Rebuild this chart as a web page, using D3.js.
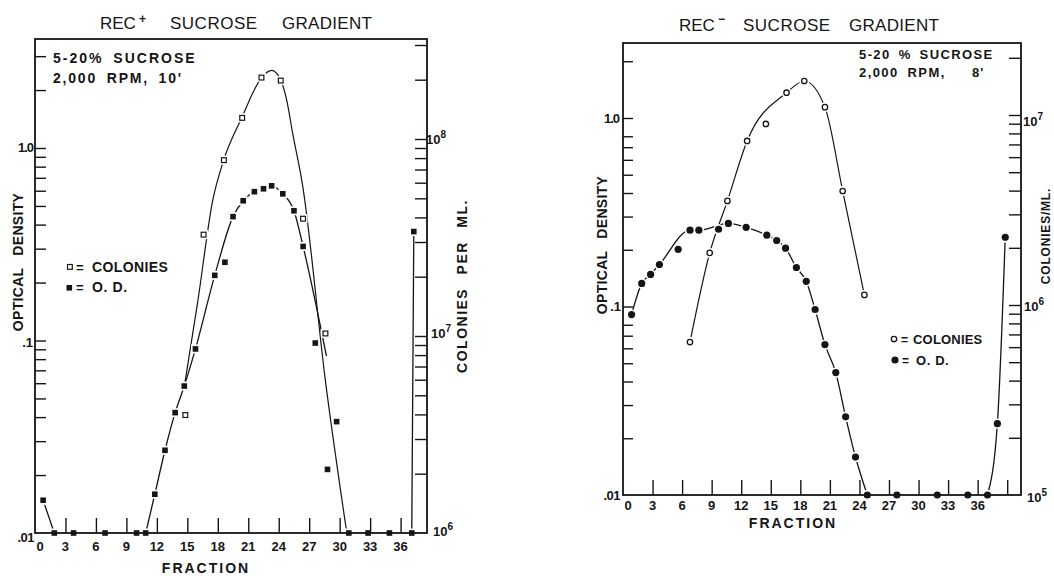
<!DOCTYPE html>
<html><head><meta charset="utf-8">
<script src="https://cdn.jsdelivr.net/npm/d3@7"></script>
<style>
body{margin:0;background:#fff}
text{font-family:"Liberation Sans",Arial,sans-serif;fill:#151515}
</style>
</head><body>
<svg id="c" width="1054" height="576"></svg>
<script>
// ---------- DATA ----------
const fractionLabels = ["0","3","6","9","12","15","18","21","24","27","30","33","36"];
const fractionTicksA = [3,6,9,12,15,18,21,24,27,30,33,36];
const fractionTicksB = [3,6,9,12,15,18,21,24,27,30,33,36,39];

// REC+ panel: optical density (filled squares)
const recPlusOdFraction = [0.8,1.9,3.8,6.9,10.0,10.9,11.8,12.8,13.8,14.7,15.8,17.7,18.7,19.5,20.5,21.6,22.5,23.3,24.4,25.5,26.4,27.6,28.8,29.7,30.9,32.8,34.9,37.1,37.3];
const recPlusOd = [0.0148,0.01,0.01,0.01,0.01,0.01,0.0159,0.0269,0.0422,0.058,0.0904,0.218,0.255,0.44,0.532,0.593,0.614,0.636,0.578,0.472,0.308,0.097,0.0214,0.0379,0.01,0.01,0.01,0.01,0.368];
// REC+ panel: colonies per ml (open squares)
const recPlusColFraction = [14.8,16.6,18.6,20.4,22.3,24.2,26.4,28.6];
const recPlusCol = [3.97e6,3.27e7,7.81e7,1.28e8,2.05e8,1.98e8,3.94e7,1.03e7];
// REC+ hand-drawn fit curves (null = break)
const recPlusOdFitFraction = [0.8,1.9,null,10.9,11.8,12.8,13.8,14.7,15.8,17.7,19.5,20.5,21.6,22.5,23.3,24.4,25.5,26.4,28.7,null,37.1,37.3];
const recPlusOdFit = [0.0148,0.01,null,0.01,0.0159,0.0269,0.0422,0.058,0.0904,0.218,0.44,0.532,0.593,0.614,0.636,0.578,0.472,0.308,0.083,null,0.01,0.368];
const recPlusColFitFraction = [14.65,16.03,17.5,18.58,20.35,22.32,23.3,24.19,24.78,25.37,26.35,28.61,30.68];
const recPlusColFit = [5.33e6,1.5e7,4.88e7,7.81e7,1.28e8,2.05e8,2.23e8,2.0e8,1.58e8,1.07e8,5.82e7,5.85e6,1.02e6];
const recPlusOdTicks = [0.02,0.03,0.04,0.05,0.06,0.07,0.08,0.09,0.1,0.2,0.3,0.4,0.5,0.6,0.7,0.8,0.9,1,2,3];
const recPlusColTicks = [2e6,3e6,4e6,5e6,6e6,7e6,8e6,9e6,1e7,2e7,3e7,4e7,5e7,6e7,7e7,8e7,9e7,1e8,2e8,3e8];

// REC- panel: optical density (filled circles)
const recMinusOdFraction = [0.87,1.9,2.8,3.7,5.6,6.8,7.7,9.7,10.7,12.5,14.6,15.6,16.5,17.6,18.6,19.5,20.5,21.6,22.6,23.6,24.8,27.8,31.9,35.0,37.0,38.0,38.8];
const recMinusOd = [0.0906,0.1326,0.148,0.167,0.201,0.254,0.254,0.257,0.276,0.263,0.239,0.224,0.204,0.161,0.136,0.0964,0.0628,0.0446,0.026,0.0159,0.01,0.01,0.01,0.01,0.01,0.0239,0.233];
// REC- panel: colonies per ml (open circles)
const recMinusColFraction = [6.8,8.8,10.6,12.6,14.5,16.6,18.4,20.5,22.3,24.5];
const recMinusCol = [6.38e5,1.88e6,3.53e6,7.3e6,8.97e6,1.31e7,1.51e7,1.10e7,3.98e6,1.13e6];
const recMinusOdFitFraction = [0.87,1.9,2.8,3.7,6.8,7.7,10.7,12.5,14.6,15.6,16.5,17.6,18.6,19.5,20.5,21.6,22.6,23.6,24.8,null,37.0,38.0,38.8];
const recMinusOdFit = [0.0906,0.1326,0.148,0.167,0.254,0.254,0.276,0.263,0.239,0.224,0.204,0.161,0.136,0.0964,0.0628,0.0446,0.026,0.0159,0.01,null,0.01,0.0239,0.233];
const recMinusColFitFraction = [6.8,8.8,10.6,12.6,16.6,18.4,20.5,22.3,24.5];
const recMinusColFit = [6.38e5,1.88e6,3.53e6,7.3e6,1.31e7,1.51e7,1.10e7,3.98e6,1.13e6];
const recMinusOdTicks = [0.02,0.03,0.04,0.05,0.06,0.07,0.08,0.1,0.2,0.3,0.4,0.5,0.6,0.7,0.8,1,2];
const recMinusColTicks = [2e5,3e5,4e5,5e5,6e5,7e5,8e5,9e5,1e6,2e6,3e6,4e6,5e6,6e6,7e6,8e6,9e6,1e7,2e7];

// ---------- DRAWING ----------
const svg = d3.select("#c");
const INK = "#151515";
const zip = (a,b) => a.map((v,i)=>[v,b[i]]);

function drawPanel(p){
  const g = svg.append("g");
  const x = p.x, yOd = p.yOd, yCol = p.yCol;
  const lineOd = d3.line().defined(d=>d[0]!=null).x(d=>x(d[0])).y(d=>yOd(d[1])).curve(d3.curveMonotoneX);
  const lineCol = d3.line().defined(d=>d[0]!=null).x(d=>x(d[0])).y(d=>yCol(d[1])).curve(d3.curveMonotoneX);
  g.append("path").attr("d", lineOd(zip(p.odFitF,p.odFit))).attr("fill","none").attr("stroke",INK).attr("stroke-width",1.3);
  g.append("path").attr("d", lineCol(zip(p.colFitF,p.colFit))).attr("fill","none").attr("stroke",INK).attr("stroke-width",1.2);

  const od = zip(p.odF,p.od), col = zip(p.colF,p.col);
  // halos to break the lines around markers
  if(p.shape==="square"){
    g.selectAll(null).data(od.concat(col)).join("rect")
      .attr("x",(d,i)=>x(d[0])-4.5).attr("y",(d,i)=>(i<od.length?yOd(d[1]):yCol(d[1]))-4.5)
      .attr("width",9).attr("height",9).attr("fill","#fff");
  } else {
    g.selectAll(null).data(od).join("circle").attr("cx",d=>x(d[0])).attr("cy",d=>yOd(d[1])).attr("r",5.2).attr("fill","#fff");
    g.selectAll(null).data(col).join("circle").attr("cx",d=>x(d[0])).attr("cy",d=>yCol(d[1])).attr("r",5).attr("fill","#fff");
  }

  // frame
  const [x0,x1] = x.range();
  g.append("rect").attr("x",x0).attr("y",p.top).attr("width",x1-x0).attr("height",p.bottom-p.top)
    .attr("fill","none").attr("stroke",INK).attr("stroke-width",1.8);
  // ticks
  const tickStyle = s => { s.select(".domain").remove(); s.selectAll("line").attr("stroke",INK).attr("stroke-width",1.4); s.selectAll("text").remove(); };
  g.append("g").attr("transform",`translate(${x0},0)`).call(d3.axisLeft(yOd).tickValues(p.odTicks).tickSize(-p.tickL).tickFormat(()=>"")).call(tickStyle);
  g.append("g").attr("transform",`translate(${x1},0)`).call(d3.axisRight(yCol).tickValues(p.colTicks).tickSize(-12).tickFormat(()=>"")).call(tickStyle);
  g.append("g").attr("transform",`translate(0,${p.bottom})`).call(d3.axisBottom(x).tickValues(p.fTicks).tickSize(-15).tickFormat(()=>"")).call(tickStyle);

  // markers
  if(p.shape==="square"){
    g.selectAll(null).data(od).join("rect").attr("x",d=>x(d[0])-2.8).attr("y",d=>yOd(d[1])-2.8)
      .attr("width",5.6).attr("height",5.6).attr("fill",INK);
    g.selectAll(null).data(col).join("rect").attr("x",d=>x(d[0])-2.4).attr("y",d=>yCol(d[1])-2.4)
      .attr("width",4.8).attr("height",4.8).attr("fill","#fff").attr("stroke",INK).attr("stroke-width",1.2);
  } else {
    g.selectAll(null).data(od).join("circle").attr("cx",d=>x(d[0])).attr("cy",d=>yOd(d[1])).attr("r",3.6).attr("fill",INK);
    g.selectAll(null).data(col).join("circle").attr("cx",d=>x(d[0])).attr("cy",d=>yCol(d[1])).attr("r",2.7)
      .attr("fill","#fff").attr("stroke",INK).attr("stroke-width",1.3);
  }

  // fraction labels
  g.selectAll(null).data(fractionLabels).join("text")
    .attr("x",(d,i)=> x(+d) + (i===0?5:0)).attr("y",p.bottom+p.labDy)
    .attr("text-anchor","middle").attr("font-weight","bold").attr("font-size",13).text(d=>d);
  return g;
}

function t(x,y,s,o={}){
  const e = svg.append("text").attr("x",x).attr("y",y).text(s)
    .attr("font-size",o.size||14).attr("font-weight",o.w||"bold");
  if(o.ls!=null) e.attr("letter-spacing",o.ls);
  if(o.ws!=null) e.attr("word-spacing",o.ws);
  if(o.anchor) e.attr("text-anchor",o.anchor);
  if(o.rot) e.attr("transform",`rotate(-90 ${x} ${y})`);
  return e;
}
function pow(x,y,base,exp){
  const e = t(x,y,base,{size:13});
  e.append("tspan").attr("dy",-6).attr("font-size",10).text(exp);
}

// Panel A (REC+)
const xA = d3.scaleLinear().domain([0,38.6]).range([35,427]);
const yOdA = d3.scaleLog().domain([0.01,1]).range([533,148]);
const yColA = d3.scaleLog().domain([1e6,1e8]).range([533,139]);
drawPanel({x:xA,yOd:yOdA,yCol:yColA,top:39,bottom:533,tickL:11,shape:"square",labDy:18,
  odF:recPlusOdFraction,od:recPlusOd,colF:recPlusColFraction,col:recPlusCol,
  odFitF:recPlusOdFitFraction,odFit:recPlusOdFit,colFitF:recPlusColFitFraction,colFit:recPlusColFit,
  odTicks:recPlusOdTicks,colTicks:recPlusColTicks,fTicks:fractionTicksA});

// Panel B (REC-)
const xB = d3.scaleLinear().domain([0,40.4]).range([623,1021]);
const yOdB = d3.scaleLog().domain([0.01,1]).range([495,118]);
const yColB = d3.scaleLog().domain([1e5,1e7]).range([495,115]);
drawPanel({x:xB,yOd:yOdB,yCol:yColB,top:43,bottom:495,tickL:10,shape:"circle",labDy:15,
  odF:recMinusOdFraction,od:recMinusOd,colF:recMinusColFraction,col:recMinusCol,
  odFitF:recMinusOdFitFraction,odFit:recMinusOdFit,colFitF:recMinusColFitFraction,colFit:recMinusColFit,
  odTicks:recMinusOdTicks,colTicks:recMinusColTicks,fTicks:fractionTicksB});

// ---------- TEXT ----------
// Titles
t(100,29,"REC",{size:17,w:"normal"}); t(139,23,"+",{size:12});
t(170,29,"SUCROSE",{size:17,w:"normal",ls:0.5}); t(282,29,"GRADIENT",{size:17,w:"normal",ls:0.3});
t(679,31,"REC",{size:17,w:"normal"}); t(718,23,"\u2212",{size:12});
t(743,31,"SUCROSE",{size:17,w:"normal",ls:0.5}); t(849,31,"GRADIENT",{size:17,w:"normal",ls:0.3});

// Annotations
t(53,63,"5-20% SUCROSE",{size:14,ls:2,ws:4});
t(53,83,"2,000 RPM, 10'",{size:14,ls:1.8,ws:4});
t(859,59,"5-20 % SUCROSE",{size:13,ls:1.4,ws:3});
t(859,77,"2,000 RPM,",{size:13,ls:1.4,ws:4});
t(972,77,"8'",{size:13,ls:1});

// Left axis labels
t(33,152,"1.0",{size:13,anchor:"end",ls:-1});
t(33,347,".1",{size:13,anchor:"end"});
t(34,542,".01",{size:13,anchor:"end",ls:-0.5});
t(619,123,"1.0",{size:13,anchor:"end",ls:-1});
t(621,311,".1",{size:13,anchor:"end"});
t(620,500,".01",{size:13,anchor:"end",ls:-0.5});

// Right axis labels
pow(426,144,"10","8"); pow(431,338,"10","7"); pow(433,536,"10","6");
pow(1023,126,"10","7"); pow(1024,311,"10","6"); pow(1027,502,"10","5");

// Axis titles
t(206,573,"FRACTION",{size:14,anchor:"middle",ls:2});
t(793,528,"FRACTION",{size:14,anchor:"middle",ls:2});
t(23,262,"OPTICAL  DENSITY",{size:14,anchor:"middle",ls:0.3,ws:8,rot:true});
t(607,245,"OPTICAL  DENSITY",{size:14,anchor:"middle",ls:0.3,ws:8,rot:true});
t(467,286,"COLONIES  PER  ML.",{size:14,anchor:"middle",ls:1.5,ws:8,rot:true});
t(1050,236,"COLONIES/ML.",{size:12,anchor:"middle",ls:0.8,rot:true});

// Legends
svg.append("rect").attr("x",67.5).attr("y",264.5).attr("width",4.8).attr("height",4.8).attr("fill","#fff").attr("stroke",INK).attr("stroke-width",1.2);
t(76,272,"=",{size:13}); t(92,272,"COLONIES",{size:14,ls:0.4});
svg.append("rect").attr("x",66.5).attr("y",285).attr("width",5.6).attr("height",5.6).attr("fill",INK);
t(76,292,"=",{size:13}); t(92,292,"O. D.",{size:14,ls:0.6});
svg.append("circle").attr("cx",894).attr("cy",339).attr("r",2.7).attr("fill","#fff").attr("stroke",INK).attr("stroke-width",1.3);
t(901,344,"=",{size:12}); t(913,344,"COLONIES",{size:13,ls:0.2});
svg.append("circle").attr("cx",895).attr("cy",360).attr("r",3.6).attr("fill",INK);
t(902,365,"=",{size:12}); t(916,365,"O. D.",{size:13,ls:0.6});
</script>
</body></html>
